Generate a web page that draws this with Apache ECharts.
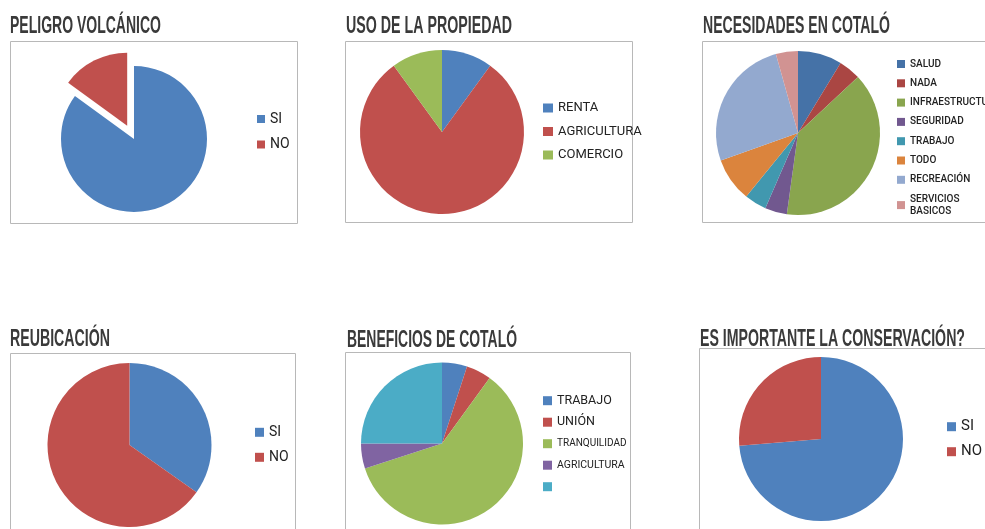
<!DOCTYPE html>
<html>
<head>
<meta charset="utf-8">
<script src="https://cdn.jsdelivr.net/npm/echarts@6/dist/echarts.min.js"></script>
<style>
html,body{margin:0;padding:0;background:#fff;}
#chart{width:985px;height:529px;}
</style>
</head>
<body>
<div id="chart"></div>
<script>
// ---- data ----
const titles = ['PELIGRO VOLCÁNICO', 'USO DE LA PROPIEDAD', 'NECESIDADES EN COTALÓ',
                'REUBICACIÓN', 'BENEFICIOS DE COTALÓ', 'ES IMPORTANTE LA CONSERVACIÓN?'];

const names1 = ['SI', 'NO'];
const vals1 = [85, 15];

const names2 = ['RENTA', 'AGRICULTURA', 'COMERCIO'];
const vals2 = [10, 80, 10];

const names3 = ['SALUD', 'NADA', 'INFRAESTRUCTURA', 'SEGURIDAD', 'TRABAJO', 'TODO', 'RECREACIÓN', 'SERVICIOS BASICOS'];
const vals3 = [2, 1, 9, 1, 1, 2, 6, 1];

const names4 = ['SI', 'NO'];
const vals4 = [8, 15];

const names5 = ['TRABAJO', 'UNIÓN', 'TRANQUILIDAD', 'AGRICULTURA', ' '];
const vals5 = [1, 1, 12, 1, 5];

const names6 = ['SI', 'NO'];
const vals6 = [14, 5];

// ---- styles ----
const officeColors = ['#4F81BD', '#C0504D', '#9BBB59', '#8064A2', '#4BACC6'];
const panel3Colors = ['#4572A7', '#AA4643', '#89A54E', '#71588F', '#4198AF', '#DB843D', '#93A9CF', '#D19392'];

const titleFont = 'bold 24px "Liberation Sans"';
const titleBoxes = [ // left, right, cap center y
  [10, 161, 26.2], [346, 512, 26.2], [703, 890, 26.2],
  [10, 110, 339.6], [347, 517, 340.2], [700, 965, 339.6]
];
const boxes = [
  [10.5, 41.5, 287, 182], [345.5, 41.5, 287, 181], [702.5, 41.5, 300, 181],
  [10.5, 353.5, 285, 200], [345.5, 352.5, 285, 200], [699.5, 348.5, 300, 200]
];

const mctx = document.createElement('canvas').getContext('2d');
mctx.font = titleFont;

const graphics = [];
boxes.forEach(b => graphics.push({
  type: 'rect', z: 0,
  shape: { x: b[0], y: b[1], width: b[2], height: b[3] },
  style: { fill: '#fff', stroke: '#b8b8b8', lineWidth: 1 }
}));
titles.forEach((t, i) => {
  const tb = titleBoxes[i];
  const w = mctx.measureText(t).width;
  graphics.push({
    type: 'text', z: 1,
    x: tb[0], y: tb[2], scaleX: (tb[1] - tb[0]) / w, originX: 0, originY: 0,
    style: { text: t, font: titleFont, fill: '#3a3a3a', align: 'left', verticalAlign: 'middle' }
  });
});

function pieData(names, vals, colors, extra) {
  return names.map((n, i) => Object.assign({
    name: n, value: vals[i], itemStyle: { color: colors[i] }
  }, extra && extra[i] ? extra[i] : {}));
}

function pieSeries(center, r, data, opts) {
  return Object.assign({
    type: 'pie', center: center, radius: r, startAngle: 90, clockwise: true,
    label: { show: false }, labelLine: { show: false },
    itemStyle: { borderWidth: 0 },
    emphasis: { disabled: true },
    select: { itemStyle: { borderWidth: 0 } },
    animation: false,
    data: data
  }, opts || {});
}

function legend(names, colors, left, top, iw, ih, gap, fontSize, lh, extraText, weight) {
  return {
    orient: 'vertical', left: left, top: top, padding: 0,
    itemWidth: iw, itemHeight: ih, itemGap: gap, icon: 'rect',
    selectedMode: false,
    textStyle: { fontFamily: 'Roboto', fontSize: fontSize, lineHeight: lh, color: '#222', fontWeight: weight || 'normal' },
    data: names.map((n, i) => {
      const d = { name: n, itemStyle: { color: colors[i] } };
      if (extraText && extraText[i]) d.textStyle = extraText[i];
      return d;
    })
  };
}

const option = {
  animation: false,
  graphic: graphics,
  legend: [
    legend(names1, officeColors, 257, 112, 8, 8, 11.5, 14, 14),
    legend(names2, officeColors, 543, 101, 10, 9, 9.5, 13, 14),
    Object.assign(legend(names3, panel3Colors, 897, 58, 8, 8, 7.3, 10, 12, null, 500), {
      formatter: n => n === 'SERVICIOS BASICOS' ? 'SERVICIOS\nBASICOS' : n
    }),
    legend(names4, officeColors, 255, 425.3, 9, 9, 11, 14, 14),
    legend(names5, officeColors, 543, 393.7, 9, 9, 7.5, 12, 14,
      [{ fontSize: 12.5 }, { fontSize: 12.5 }, { fontSize: 10 }, { fontSize: 10.5 }, { fontSize: 12 }]),
    legend(names6, officeColors, 947, 418.7, 9, 9, 9, 15, 16)
  ],
  series: [
    pieSeries([134, 139], 73, pieData(names1, vals1, officeColors, [null, { selected: true }]),
      { selectedMode: 'single', selectedOffset: 15 }),
    pieSeries([442, 132], 82, pieData(names2, vals2, officeColors)),
    pieSeries([798, 133], 82, pieData(names3, vals3, panel3Colors)),
    pieSeries([129.5, 445], 82, pieData(names4, vals4, officeColors)),
    pieSeries([442, 443.5], 81, pieData(names5, vals5, officeColors)),
    pieSeries([821, 439], 82, pieData(names6, vals6, officeColors))
  ]
};

const chart = echarts.init(document.getElementById('chart'), null, { renderer: 'canvas' });
chart.setOption(option);
</script>
</body>
</html>
